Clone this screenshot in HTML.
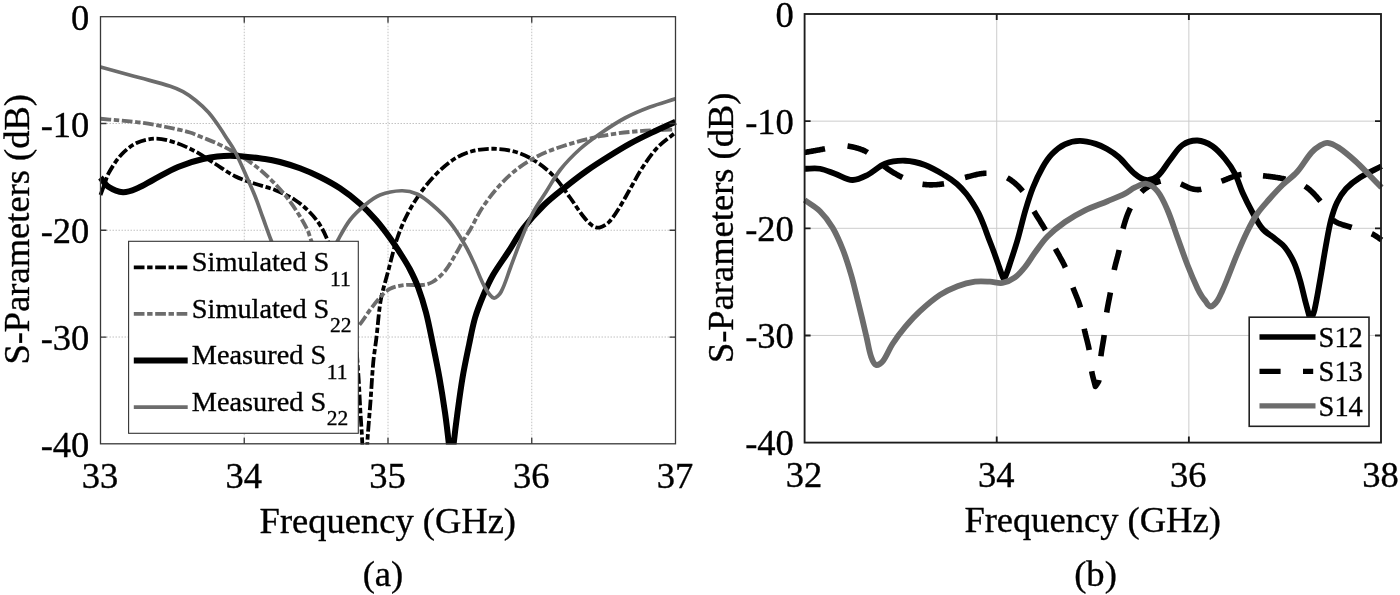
<!DOCTYPE html>
<html><head><meta charset="utf-8"><title>S-Parameters</title>
<style>html,body{margin:0;padding:0;background:#fff;overflow:hidden}svg text{fill:#000;stroke:#000;stroke-width:0.35px}body{width:1400px;height:595px;font-family:"Liberation Serif",serif}</style>
</head><body>
<svg width="1400" height="595" viewBox="0 0 1400 595" style="display:block;filter:grayscale(1);font-family:'Liberation Serif',serif">
<defs>
<clipPath id="cl"><rect x="97.50" y="16.70" width="581.00" height="427.90"/></clipPath>
<clipPath id="cr"><rect x="801.60" y="14.00" width="582.40" height="429.40"/></clipPath>
</defs>
<rect width="1400" height="595" fill="#fff"/>
<line x1="244.25" y1="16.70" x2="244.25" y2="443.80" stroke="#c2c2c2" stroke-width="1" stroke-dasharray="1.5 1.5"/>
<line x1="388.00" y1="16.70" x2="388.00" y2="443.80" stroke="#c2c2c2" stroke-width="1" stroke-dasharray="1.5 1.5"/>
<line x1="531.75" y1="16.70" x2="531.75" y2="443.80" stroke="#c2c2c2" stroke-width="1" stroke-dasharray="1.5 1.5"/>
<line x1="100.50" y1="123.48" x2="675.50" y2="123.48" stroke="#c2c2c2" stroke-width="1" stroke-dasharray="1.5 1.5"/>
<line x1="100.50" y1="230.25" x2="675.50" y2="230.25" stroke="#c2c2c2" stroke-width="1" stroke-dasharray="1.5 1.5"/>
<line x1="100.50" y1="337.03" x2="675.50" y2="337.03" stroke="#c2c2c2" stroke-width="1" stroke-dasharray="1.5 1.5"/>
<g clip-path="url(#cl)" fill="none" stroke-linejoin="round">
<path d="M100.50 195.00C101.73 191.67 102.94 188.32 104.20 185.00C105.78 180.82 106.81 176.36 109.00 172.50C112.58 166.19 116.58 159.78 121.50 154.50C125.74 149.95 130.92 145.61 136.50 143.00C142.26 140.31 149.15 138.68 155.50 138.60C161.98 138.52 168.72 140.49 175.00 142.50C181.89 144.71 188.59 147.85 195.00 151.25C201.92 154.93 208.33 159.58 215.00 163.75C221.67 167.92 228.00 172.75 235.00 176.25C241.34 179.42 248.27 181.44 255.00 183.75C261.60 186.02 268.55 187.38 275.00 190.00C281.88 192.80 288.77 196.00 295.00 200.00C300.44 203.50 305.42 207.92 310.00 212.50C313.75 216.25 317.15 220.52 320.00 225.00C322.98 229.69 325.40 234.83 327.50 240.00C330.40 247.16 332.84 254.57 335.00 262.00C337.68 271.23 339.91 280.61 342.00 290.00C344.58 301.61 346.02 313.53 349.00 325.00C350.35 330.19 354.00 334.76 355.00 340.00C357.10 351.09 357.44 362.65 358.30 374.00C359.21 385.98 359.61 398.00 360.30 410.00C360.94 421.17 361.86 432.32 362.30 443.50C363.30 468.99 363.83 494.50 364.60 520.00C365.50 494.50 366.18 468.99 367.30 443.50C367.65 435.65 368.41 427.83 369.00 420.00C369.51 413.33 370.11 406.67 370.60 400.00C371.54 387.34 372.12 374.64 373.30 362.00C374.05 353.97 375.43 346.01 376.40 338.00C377.93 325.34 378.57 312.53 380.80 300.00C382.60 289.86 385.87 279.98 388.50 270.00C391.10 260.15 393.34 250.17 396.50 240.50C399.01 232.83 402.00 225.26 405.50 218.00C408.83 211.09 412.71 204.36 417.00 198.00C421.71 191.03 426.77 184.14 432.50 178.00C438.44 171.64 444.88 165.40 452.00 160.50C457.71 156.57 464.34 153.37 471.00 151.50C478.26 149.46 486.19 148.59 493.75 148.75C501.69 148.92 509.94 150.13 517.50 152.50C524.53 154.71 531.34 158.40 537.50 162.50C543.84 166.73 549.80 171.90 555.00 177.50C560.64 183.57 565.10 190.76 570.00 197.50C574.43 203.59 578.32 210.12 583.00 216.00C585.82 219.55 588.90 223.27 592.50 225.80C594.40 227.14 597.31 228.05 599.50 227.60C602.64 226.95 606.09 224.86 608.50 222.50C612.42 218.66 615.47 213.70 618.50 209.00C622.47 202.86 625.84 196.34 629.50 190.00C633.84 182.50 637.74 174.72 642.50 167.50C647.08 160.55 651.82 153.52 657.50 147.50C662.82 141.86 669.50 137.50 675.50 132.50" stroke="#000" stroke-width="3.8" stroke-dasharray="10.7 2.65 5.4 2.65"/>
<path d="M100.50 118.75C113.67 120.00 126.88 120.87 140.00 122.50C148.38 123.54 156.71 125.09 165.00 126.75C173.38 128.43 181.80 130.15 190.00 132.50C194.30 133.73 198.33 135.83 202.50 137.50C206.67 139.17 210.92 140.63 215.00 142.50C220.76 145.13 226.49 147.88 232.00 151.00C238.99 154.96 246.02 159.02 252.50 163.75C258.69 168.27 264.47 173.43 270.00 178.75C275.30 183.85 280.35 189.30 285.00 195.00C289.52 200.55 293.63 206.48 297.50 212.50C301.13 218.14 304.55 223.99 307.50 230.00C309.05 233.16 309.72 236.71 311.00 240.00C313.88 247.38 317.19 254.60 320.00 262.00C323.52 271.26 326.32 280.81 330.00 290.00C332.99 297.47 336.17 304.95 340.00 312.00C342.50 316.61 345.55 321.18 349.00 325.00C350.22 326.35 352.28 327.27 354.00 327.50C355.36 327.68 357.28 327.31 358.25 326.25C362.62 321.47 365.97 315.33 370.00 310.00C373.22 305.75 376.36 301.37 380.00 297.50C383.02 294.29 386.15 290.68 390.00 288.75C394.48 286.51 399.92 285.59 405.00 285.00C410.75 284.34 416.76 285.63 422.50 285.00C425.93 284.63 429.61 283.80 432.50 282.00C437.11 279.13 441.55 275.28 445.00 271.00C449.88 264.94 453.46 257.74 457.50 251.00C459.46 247.74 461.06 244.27 463.00 241.00C465.22 237.27 467.81 233.75 470.00 230.00C474.31 222.59 477.75 214.62 482.50 207.50C487.75 199.62 493.65 192.03 500.00 185.00C505.32 179.11 511.21 173.57 517.50 168.75C523.71 163.99 530.50 159.75 537.50 156.25C545.50 152.25 553.97 148.98 562.50 146.25C574.80 142.31 587.34 138.78 600.00 136.25C612.34 133.78 624.95 132.37 637.50 131.25C650.12 130.12 662.83 130.08 675.50 129.50" stroke="#6c6c6c" stroke-width="3.8" stroke-dasharray="10.7 2.65 5.4 2.65"/>
<path d="M100.50 177.50C103.00 180.50 104.84 184.43 108.00 186.50C112.34 189.33 117.93 191.95 123.00 192.20C127.93 192.45 133.22 189.94 138.00 188.00C143.22 185.88 147.98 182.63 153.00 180.00C161.32 175.63 169.37 170.62 178.00 167.00C186.04 163.62 194.49 160.84 203.00 159.00C211.82 157.09 220.99 155.75 230.00 155.75C241.65 155.75 253.39 157.55 265.00 159.00C270.05 159.63 275.08 160.69 280.00 162.00C286.75 163.79 293.46 165.85 300.00 168.30C306.80 170.85 313.51 173.75 320.00 177.00C326.84 180.42 333.65 184.06 340.00 188.30C346.98 192.96 353.70 198.15 360.00 203.70C365.70 208.72 371.00 214.28 376.00 220.00C381.00 225.71 385.55 231.84 390.00 238.00C394.22 243.84 398.14 249.91 402.00 256.00C404.80 260.41 407.60 264.86 410.00 269.50C412.94 275.19 415.77 281.00 418.00 287.00C421.10 295.33 423.77 303.88 426.00 312.50C428.77 323.22 430.76 334.15 433.00 345.00C435.26 355.98 437.54 366.96 439.50 378.00C441.54 389.46 443.36 400.97 445.00 412.50C446.44 422.64 447.64 432.82 448.75 443.00C449.73 451.98 450.42 461.00 451.25 470.00C452.08 461.00 452.77 451.98 453.75 443.00C454.86 432.82 456.13 422.65 457.50 412.50C459.05 400.98 460.55 389.45 462.50 378.00C464.38 366.95 466.71 355.97 469.00 345.00C470.88 335.97 472.44 326.83 475.00 318.00C477.27 310.17 480.35 302.53 483.50 295.00C486.35 288.20 489.33 281.38 493.00 275.00C497.66 266.88 503.39 259.37 508.50 251.50C513.56 243.70 517.88 235.36 523.50 228.00C529.71 219.86 536.69 212.17 544.00 205.00C550.52 198.61 557.86 193.02 565.00 187.30C572.13 181.59 579.35 175.97 586.80 170.70C593.85 165.71 601.18 161.09 608.50 156.50C615.58 152.06 622.69 147.64 630.00 143.60C637.12 139.67 644.47 136.13 651.80 132.60C659.63 128.83 667.60 125.33 675.50 121.70" stroke="#000" stroke-width="6.0"/>
<path d="M100.50 67.00C113.67 70.60 126.84 74.18 140.00 77.80C150.11 80.58 160.35 82.98 170.30 86.20C174.68 87.62 179.00 89.45 183.00 91.70C187.50 94.22 191.79 97.24 195.80 100.50C200.33 104.18 204.69 108.18 208.60 112.50C212.16 116.44 215.14 120.93 218.20 125.30C221.44 129.93 224.43 134.75 227.50 139.50C229.86 143.15 232.49 146.66 234.50 150.50C238.32 157.82 241.60 165.45 245.00 173.00C248.43 180.62 251.90 188.24 255.00 196.00C257.90 203.24 260.33 210.67 263.00 218.00C265.67 225.33 268.19 232.72 271.00 240.00C275.52 251.72 279.55 263.72 285.00 275.00C289.22 283.72 294.63 291.95 300.00 300.00C301.30 301.95 303.59 305.94 305.00 305.00C308.59 302.61 312.27 295.33 315.00 290.00C319.61 281.00 322.76 271.22 327.00 262.00C330.42 254.55 334.06 247.19 338.00 240.00C341.73 233.19 345.29 226.11 350.00 220.00C354.29 214.44 359.59 209.50 365.00 205.00C369.59 201.17 374.51 197.14 380.00 195.00C386.68 192.39 394.34 190.94 401.50 190.75C406.67 190.61 412.30 191.84 417.00 194.00C422.64 196.59 427.72 200.87 432.50 205.00C438.72 210.37 444.82 216.13 450.00 222.50C455.66 229.46 460.41 237.26 465.00 245.00C468.41 250.76 471.14 256.93 474.00 263.00C477.81 271.10 480.64 279.77 485.00 287.50C487.22 291.43 490.59 297.11 493.75 298.00C495.92 298.61 499.53 294.68 501.00 292.00C505.11 284.51 507.37 275.68 510.50 267.50C513.87 258.68 516.93 249.74 520.50 241.00C524.43 231.40 528.22 221.68 533.00 212.50C536.72 205.34 541.64 198.82 546.00 192.00C550.81 184.48 554.99 176.47 560.50 169.50C566.32 162.13 573.03 155.31 580.00 149.00C586.20 143.38 593.10 138.46 600.00 133.70C608.10 128.12 616.34 122.62 625.00 118.00C633.01 113.72 641.50 110.24 650.00 107.00C658.34 103.82 667.00 101.50 675.50 98.75" stroke="#6c6c6c" stroke-width="3.7"/>
</g>
<path d="M244.25 16.70v6.0M244.25 443.80v-6.0M388.00 16.70v6.0M388.00 443.80v-6.0M531.75 16.70v6.0M531.75 443.80v-6.0M100.50 123.48h6.0M675.50 123.48h-6.0M100.50 230.25h6.0M675.50 230.25h-6.0M100.50 337.03h6.0M675.50 337.03h-6.0" stroke="#383838" stroke-width="1.30" fill="none"/>
<rect x="100.50" y="16.70" width="575.00" height="427.10" fill="none" stroke="#383838" stroke-width="1.30"/>
<rect x="128.60" y="241.30" width="229.70" height="192.00" fill="#fff" stroke="#333" stroke-width="1.1"/>
<path d="M133.8 267.40H187.7" stroke="#000" stroke-width="3.8" stroke-dasharray="10.7 2.65 5.4 2.65"/>
<path d="M133.8 313.80H187.7" stroke="#6c6c6c" stroke-width="3.8" stroke-dasharray="10.7 2.65 5.4 2.65"/>
<path d="M133.8 360.50H187.7" stroke="#000" stroke-width="6.0"/>
<path d="M133.8 407.20H187.7" stroke="#6c6c6c" stroke-width="3.7"/>
<text x="191.8" y="271.30" font-size="28.3"><tspan>Simulated S</tspan><tspan font-size="21.5" dx="0.6" dy="14.2">11</tspan></text>
<text x="191.8" y="317.70" font-size="28.3"><tspan>Simulated S</tspan><tspan font-size="21.5" dx="0.6" dy="14.2">22</tspan></text>
<text x="191.8" y="364.40" font-size="28.3"><tspan>Measured S</tspan><tspan font-size="21.5" dx="0.6" dy="14.2">11</tspan></text>
<text x="191.8" y="411.10" font-size="28.3"><tspan>Measured S</tspan><tspan font-size="21.5" dx="0.6" dy="14.2">22</tspan></text>
<text x="89.3" y="29.90" font-size="36.5" text-anchor="end">0</text>
<text x="89.3" y="136.68" font-size="36.5" text-anchor="end">-10</text>
<text x="89.3" y="243.45" font-size="36.5" text-anchor="end">-20</text>
<text x="89.3" y="350.23" font-size="36.5" text-anchor="end">-30</text>
<text x="89.3" y="457.00" font-size="36.5" text-anchor="end">-40</text>
<text x="99.90" y="487.7" font-size="36.5" text-anchor="middle">33</text>
<text x="243.65" y="487.7" font-size="36.5" text-anchor="middle">34</text>
<text x="387.40" y="487.7" font-size="36.5" text-anchor="middle">35</text>
<text x="531.15" y="487.7" font-size="36.5" text-anchor="middle">36</text>
<text x="674.90" y="487.7" font-size="36.5" text-anchor="middle">37</text>
<text x="387.8" y="532.5" font-size="36.5" text-anchor="middle">Frequency (GHz)</text>
<text transform="translate(28.6 229.3) rotate(-90)" font-size="36.5" text-anchor="middle">S-Parameters (dB)</text>
<text x="362.7" y="585.6" font-size="36.6">(a)</text>
<line x1="996.73" y1="14.00" x2="996.73" y2="442.60" stroke="#cccccc" stroke-width="1" stroke-dasharray="none"/>
<line x1="1188.87" y1="14.00" x2="1188.87" y2="442.60" stroke="#cccccc" stroke-width="1" stroke-dasharray="none"/>
<line x1="804.60" y1="121.15" x2="1381.00" y2="121.15" stroke="#cccccc" stroke-width="1" stroke-dasharray="none"/>
<line x1="804.60" y1="228.30" x2="1381.00" y2="228.30" stroke="#cccccc" stroke-width="1" stroke-dasharray="none"/>
<line x1="804.60" y1="335.45" x2="1381.00" y2="335.45" stroke="#cccccc" stroke-width="1" stroke-dasharray="none"/>
<g clip-path="url(#cr)" fill="none" stroke-linejoin="round">
<path d="M804.60 168.75C809.73 168.75 815.00 167.93 820.00 168.75C825.13 169.59 830.02 172.03 835.00 173.75C840.85 175.78 846.65 179.77 852.50 180.00C857.48 180.19 862.82 177.34 867.50 175.00C873.66 171.92 878.66 166.16 885.00 163.75C891.16 161.41 898.37 160.54 905.00 160.75C911.70 160.96 918.67 162.66 925.00 165.00C932.00 167.58 938.54 171.66 945.00 175.50C949.21 178.00 953.30 180.83 957.00 184.00C960.30 186.83 963.24 190.14 966.00 193.50C968.57 196.64 970.81 200.08 973.00 203.50C974.97 206.58 976.87 209.73 978.50 213.00C980.37 216.73 981.95 220.62 983.50 224.50C985.28 228.95 986.81 233.51 988.50 238.00C990.14 242.34 991.90 246.64 993.50 251.00C995.57 256.64 997.50 262.33 999.50 268.00C1000.27 270.17 1000.93 272.37 1001.80 274.50C1002.40 275.97 1003.17 278.80 1003.90 278.80C1004.64 278.80 1005.59 276.00 1006.20 274.50C1007.46 271.40 1008.46 268.19 1009.50 265.00C1012.22 256.69 1015.06 248.40 1017.50 240.00C1020.39 230.07 1022.57 219.92 1025.50 210.00C1027.74 202.42 1030.07 194.83 1033.00 187.50C1035.74 180.66 1038.86 173.89 1042.50 167.50C1045.20 162.76 1048.24 157.99 1052.00 154.10C1055.67 150.29 1060.07 146.65 1064.80 144.40C1069.31 142.25 1074.71 140.98 1079.70 140.90C1085.01 140.81 1090.53 142.37 1095.70 143.90C1099.67 145.07 1103.50 146.94 1107.10 149.00C1111.14 151.31 1115.14 153.90 1118.60 157.00C1124.44 162.23 1129.03 168.99 1135.00 174.00C1138.17 176.66 1142.18 179.62 1146.00 180.00C1149.68 180.37 1154.53 178.72 1157.50 176.25C1162.53 172.06 1165.73 165.34 1170.00 160.00C1174.07 154.92 1177.41 148.61 1182.50 145.00C1186.58 142.11 1192.56 140.29 1197.50 140.50C1202.56 140.71 1208.14 143.35 1212.50 146.25C1217.30 149.44 1221.29 154.21 1225.00 158.75C1228.79 163.38 1232.25 168.44 1235.00 173.75C1238.08 179.69 1239.73 186.37 1242.50 192.50C1245.57 199.29 1248.90 205.98 1252.50 212.50C1255.57 218.06 1258.42 223.99 1262.50 228.75C1265.92 232.74 1270.90 235.33 1275.00 238.75C1278.40 241.58 1282.27 244.08 1285.00 247.50C1288.60 252.00 1291.57 257.23 1294.00 262.50C1296.57 268.07 1298.27 274.09 1300.00 280.00C1301.93 286.59 1303.29 293.34 1305.00 300.00C1306.29 305.01 1307.69 309.99 1309.00 315.00C1309.52 316.99 1310.00 319.00 1310.50 321.00C1311.83 317.33 1313.63 313.79 1314.50 310.00C1316.96 299.29 1318.58 288.35 1320.50 277.50C1322.41 266.68 1324.03 255.81 1326.00 245.00C1327.53 236.64 1328.88 228.21 1331.00 220.00C1332.54 214.04 1334.35 208.02 1337.00 202.50C1339.35 197.60 1342.34 192.73 1346.00 188.75C1350.00 184.40 1354.97 180.69 1360.00 177.50C1366.80 173.19 1374.33 170.00 1381.50 166.25" stroke="#000" stroke-width="5.8"/>
<path d="M804.60 152.50L805.45 152.34L806.30 152.19L807.15 152.03L808.00 151.88L808.85 151.73L809.70 151.58L810.55 151.42L811.40 151.27L812.26 151.12L813.11 150.96L813.96 150.81L814.81 150.66L815.66 150.51L816.51 150.35L817.36 150.20L818.21 150.04L819.06 149.88L819.91 149.73L820.76 149.57L821.61 149.41L822.46 149.24L823.30 149.08L824.15 148.92L825.00 148.75M847.54 145.96L848.17 146.06L848.80 146.16L849.43 146.27L850.06 146.39L850.68 146.51L851.31 146.64L851.93 146.77L852.55 146.91L853.17 147.05L853.78 147.20L854.39 147.35L855.00 147.50L855.54 147.64L856.08 147.78L856.62 147.93L857.17 148.08L857.71 148.24L858.25 148.41L858.79 148.58L859.33 148.75L859.87 148.93L860.41 149.12L860.94 149.31L861.48 149.51L862.00 149.72L862.53 149.93L863.05 150.15L863.57 150.38L864.08 150.61L864.59 150.86L865.09 151.11L865.58 151.37L866.07 151.64L866.56 151.92L867.03 152.20L867.50 152.50M884.00 166.25L884.73 166.77L885.47 167.29L886.21 167.81L886.95 168.32L887.70 168.84L888.45 169.34L889.20 169.85L889.96 170.35L890.71 170.84L891.48 171.34L892.24 171.82L893.01 172.30L893.78 172.78L894.56 173.25L895.34 173.71L896.12 174.16L896.90 174.61L897.69 175.05L898.48 175.48L899.28 175.90L900.08 176.32L900.88 176.72L901.69 177.11L902.50 177.50M922.50 184.25L923.38 184.37L924.26 184.48L925.14 184.58L926.03 184.65L926.92 184.72L927.82 184.77L928.72 184.81L929.62 184.83L930.52 184.85L931.42 184.85L932.33 184.83L933.24 184.81L934.14 184.78L935.05 184.73L935.95 184.67L936.86 184.61L937.76 184.53L938.66 184.44L939.56 184.35L940.45 184.25L941.35 184.13L942.24 184.01L943.12 183.89L944.00 183.75M965.00 177.50L965.89 177.28L966.77 177.05L967.66 176.81L968.55 176.58L969.45 176.34L970.34 176.10L971.23 175.86L972.13 175.62L973.03 175.39L973.92 175.16L974.82 174.93L975.72 174.72L976.62 174.51L977.52 174.32L978.42 174.13L979.32 173.96L980.22 173.81L981.12 173.67L982.01 173.55L982.91 173.44L983.81 173.36L984.71 173.30L985.60 173.26L986.50 173.25M1007.27 177.89L1008.03 178.31L1008.79 178.75L1009.54 179.21L1010.28 179.68L1011.02 180.18L1011.75 180.69L1012.47 181.22L1013.19 181.77L1013.89 182.33L1014.59 182.91L1015.28 183.49L1015.96 184.09L1016.63 184.71L1017.29 185.33L1017.95 185.96L1018.59 186.60L1019.22 187.25L1019.84 187.90L1020.44 188.57L1021.04 189.23L1021.62 189.90L1022.19 190.57L1022.75 191.25M1034.00 211.25L1034.46 212.04L1034.93 212.82L1035.40 213.61L1035.87 214.39L1036.35 215.17L1036.83 215.95L1037.31 216.73L1037.79 217.50L1038.27 218.28L1038.76 219.06L1039.24 219.83L1039.73 220.61L1040.21 221.39L1040.69 222.16L1041.18 222.94L1041.66 223.72L1042.13 224.50L1042.61 225.28L1043.08 226.06L1043.55 226.84L1044.02 227.63L1044.49 228.42L1044.95 229.21L1045.40 230.00M1055.40 248.75L1055.82 249.53L1056.24 250.31L1056.67 251.09L1057.09 251.86L1057.53 252.64L1057.96 253.41L1058.39 254.18L1058.83 254.96L1059.26 255.73L1059.69 256.50L1060.13 257.28L1060.56 258.05L1060.99 258.83L1061.41 259.61L1061.84 260.39L1062.25 261.17L1062.67 261.95L1063.08 262.73L1063.48 263.52L1063.88 264.31L1064.27 265.10L1064.66 265.90L1065.03 266.70L1065.40 267.50M1072.90 287.50L1073.22 288.33L1073.54 289.16L1073.86 289.99L1074.19 290.82L1074.53 291.65L1074.86 292.48L1075.20 293.30L1075.54 294.13L1075.88 294.96L1076.22 295.78L1076.55 296.61L1076.89 297.44L1077.22 298.26L1077.54 299.09L1077.86 299.92L1078.18 300.76L1078.49 301.59L1078.79 302.43L1079.08 303.27L1079.37 304.11L1079.64 304.95L1079.91 305.80L1080.16 306.65L1080.40 307.50M1084.20 328.75L1084.39 329.64L1084.58 330.53L1084.79 331.41L1084.99 332.30L1085.21 333.18L1085.42 334.07L1085.65 334.95L1085.87 335.83L1086.10 336.72L1086.32 337.60L1086.55 338.48L1086.78 339.36L1087.01 340.25L1087.23 341.13L1087.45 342.01L1087.67 342.90L1087.88 343.78L1088.09 344.66L1088.30 345.55L1088.49 346.44L1088.68 347.33L1088.87 348.22L1089.04 349.11L1089.20 350.00M1091.70 371.25L1091.81 371.89L1091.93 372.53L1092.06 373.18L1092.19 373.82L1092.33 374.45L1092.47 375.09L1092.62 375.73L1092.77 376.36L1092.93 377.00L1093.09 377.63L1093.25 378.27L1093.41 378.90L1093.58 379.53L1093.75 380.17L1093.92 380.80L1094.09 381.43L1094.26 382.07L1094.43 382.70L1094.59 383.33L1094.76 383.96L1094.92 384.60L1095.09 385.23L1095.24 385.87L1095.40 386.50L1095.55 386.23L1095.71 385.96L1095.88 385.70L1096.05 385.43L1096.23 385.17L1096.41 384.91L1096.59 384.64L1096.77 384.38L1096.95 384.12L1097.13 383.86L1097.31 383.60L1097.48 383.34L1097.66 383.07L1097.82 382.81L1097.98 382.54L1098.14 382.27L1098.28 382.00L1098.42 381.72L1098.55 381.45L1098.66 381.16L1098.77 380.88L1098.86 380.59L1098.94 380.30L1099.00 380.00M1100.90 356.25L1101.01 355.36L1101.12 354.47L1101.24 353.58L1101.36 352.70L1101.49 351.81L1101.63 350.92L1101.77 350.04L1101.91 349.15L1102.06 348.27L1102.20 347.39L1102.35 346.50L1102.50 345.62L1102.66 344.73L1102.81 343.85L1102.96 342.97L1103.11 342.08L1103.26 341.20L1103.40 340.31L1103.55 339.43L1103.69 338.54L1103.82 337.66L1103.95 336.77L1104.08 335.89L1104.20 335.00M1106.70 312.50L1106.83 311.66L1106.96 310.83L1107.09 309.99L1107.23 309.16L1107.38 308.32L1107.53 307.49L1107.68 306.65L1107.83 305.82L1107.99 304.99L1108.15 304.16L1108.31 303.32L1108.47 302.49L1108.64 301.66L1108.80 300.83L1108.97 300.00L1109.13 299.17L1109.30 298.33L1109.46 297.50L1109.62 296.67L1109.78 295.84L1109.94 295.00L1110.10 294.17L1110.25 293.33L1110.40 292.50M1114.20 270.00L1114.38 269.16L1114.56 268.32L1114.76 267.49L1114.95 266.65L1115.16 265.82L1115.37 264.99L1115.58 264.15L1115.80 263.32L1116.02 262.49L1116.24 261.66L1116.46 260.83L1116.68 260.00L1116.91 259.17L1117.13 258.34L1117.36 257.51L1117.58 256.68L1117.80 255.85L1118.01 255.01L1118.22 254.18L1118.43 253.35L1118.63 252.51L1118.83 251.68L1119.02 250.84L1119.20 250.00M1123.00 228.75L1123.24 227.87L1123.48 226.98L1123.73 226.10L1123.98 225.21L1124.23 224.32L1124.49 223.44L1124.76 222.56L1125.03 221.67L1125.31 220.79L1125.59 219.91L1125.88 219.04L1126.18 218.16L1126.49 217.29L1126.80 216.42L1127.12 215.56L1127.45 214.70L1127.78 213.84L1128.13 212.99L1128.48 212.14L1128.85 211.30L1129.22 210.47L1129.60 209.64L1130.00 208.82L1130.40 208.00M1141.50 192.00L1141.86 191.61L1142.24 191.24L1142.62 190.87L1143.02 190.51L1143.42 190.15L1143.83 189.81L1144.25 189.47L1144.67 189.14L1145.10 188.81L1145.54 188.49L1145.98 188.18L1146.43 187.87L1146.88 187.56L1147.34 187.27L1147.80 186.97L1148.26 186.68L1148.73 186.40L1149.19 186.12L1149.66 185.84L1150.13 185.57L1150.60 185.30L1151.07 185.03L1151.53 184.76L1152.00 184.50L1152.35 184.31L1152.70 184.12L1153.06 183.93L1153.42 183.75L1153.78 183.57L1154.14 183.39L1154.51 183.22L1154.88 183.05L1155.25 182.89L1155.63 182.73L1156.00 182.58L1156.38 182.43L1156.76 182.29L1157.14 182.15L1157.52 182.01L1157.91 181.88L1158.29 181.75L1158.68 181.63L1159.06 181.51L1159.45 181.40L1159.84 181.29L1160.22 181.19L1160.61 181.09M1180.80 184.00L1181.27 184.19L1181.74 184.38L1182.21 184.59L1182.68 184.79L1183.14 185.01L1183.60 185.23L1184.07 185.45L1184.53 185.68L1184.99 185.90L1185.45 186.13L1185.91 186.36L1186.37 186.58L1186.83 186.80L1187.29 187.02L1187.75 187.24L1188.22 187.44L1188.68 187.65L1189.15 187.84L1189.62 188.03L1190.09 188.21L1190.56 188.37L1191.04 188.53L1191.52 188.67L1192.00 188.80L1192.37 188.89L1192.75 188.98L1193.13 189.06L1193.51 189.14L1193.90 189.22L1194.29 189.29L1194.68 189.35L1195.07 189.41L1195.47 189.46L1195.86 189.50L1196.26 189.54L1196.65 189.57L1197.05 189.59L1197.45 189.60L1197.84 189.61L1198.24 189.60L1198.63 189.59L1199.02 189.56L1199.41 189.53L1199.79 189.49L1200.17 189.43L1200.55 189.37L1200.93 189.29L1201.30 189.20M1221.50 181.25L1222.33 180.94L1223.15 180.63L1223.98 180.30L1224.80 179.97L1225.63 179.64L1226.45 179.30L1227.28 178.96L1228.10 178.63L1228.93 178.29L1229.75 177.96L1230.58 177.63L1231.41 177.31L1232.24 177.00L1233.07 176.69L1233.90 176.40L1234.74 176.12L1235.58 175.85L1236.41 175.60L1237.26 175.36L1238.10 175.15L1238.95 174.95L1239.79 174.78L1240.65 174.63L1241.50 174.50M1263.00 175.75L1263.94 175.85L1264.89 175.95L1265.83 176.06L1266.78 176.16L1267.72 176.27L1268.67 176.38L1269.61 176.49L1270.56 176.61L1271.50 176.73L1272.44 176.86L1273.39 176.98L1274.33 177.12L1275.27 177.26L1276.21 177.40L1277.15 177.55L1278.08 177.71L1279.02 177.87L1279.95 178.04L1280.88 178.22L1281.81 178.41L1282.74 178.61L1283.66 178.81L1284.58 179.03L1285.50 179.25M1305.00 186.25L1305.73 186.73L1306.46 187.22L1307.17 187.74L1307.88 188.28L1308.58 188.83L1309.26 189.40L1309.94 189.98L1310.61 190.58L1311.27 191.19L1311.93 191.81L1312.57 192.45L1313.21 193.09L1313.85 193.74L1314.47 194.41L1315.09 195.07L1315.70 195.75L1316.31 196.43L1316.91 197.11L1317.50 197.80L1318.09 198.49L1318.67 199.18L1319.25 199.87L1319.83 200.56L1320.40 201.25M1333.00 220.00L1333.63 220.50L1334.28 220.97L1334.96 221.41L1335.65 221.83L1336.37 222.22L1337.11 222.59L1337.86 222.94L1338.63 223.28L1339.41 223.59L1340.21 223.89L1341.01 224.18L1341.83 224.45L1342.65 224.72L1343.47 224.97L1344.30 225.22L1345.14 225.47L1345.97 225.72L1346.80 225.96L1347.63 226.20L1348.46 226.45L1349.28 226.70L1350.10 226.96L1350.90 227.22L1351.70 227.50M1371.70 233.75L1372.15 233.94L1372.59 234.15L1373.03 234.36L1373.46 234.59L1373.89 234.82L1374.31 235.07L1374.73 235.32L1375.15 235.57L1375.57 235.84L1375.98 236.11L1376.39 236.38L1376.80 236.66L1377.21 236.94L1377.62 237.22L1378.02 237.50L1378.43 237.79L1378.83 238.07L1379.24 238.36L1379.65 238.64L1380.05 238.92L1380.46 239.20L1380.87 239.47L1381.29 239.74L1381.70 240.00" stroke="#000" stroke-width="5.6"/>
<path d="M804.60 200.00C809.73 203.75 815.52 206.83 820.00 211.25C824.82 216.00 829.03 221.66 832.50 227.50C836.70 234.57 839.97 242.31 843.00 250.00C846.21 258.15 848.74 266.59 851.20 275.00C853.61 283.25 855.50 291.66 857.60 300.00C859.17 306.24 860.70 312.49 862.20 318.75C863.70 324.99 865.13 331.25 866.60 337.50C868.13 344.00 869.02 350.77 871.20 357.00C872.22 359.93 874.06 364.27 876.20 365.00C877.99 365.61 881.43 363.02 883.00 361.00C886.87 356.02 888.97 349.43 892.50 344.00C896.30 338.16 900.52 332.54 905.00 327.20C909.69 321.61 914.64 316.14 920.00 311.20C926.30 305.39 932.89 299.69 940.00 294.95C945.39 291.35 951.43 288.50 957.50 286.20C963.10 284.08 969.08 282.52 975.00 281.70C979.91 281.02 985.01 281.47 990.00 281.70C994.18 281.89 998.51 283.64 1002.50 282.95C1006.84 282.20 1011.35 279.99 1015.00 277.40C1018.85 274.67 1022.00 270.74 1025.00 267.00C1028.66 262.44 1031.52 257.22 1035.00 252.50C1039.02 247.06 1042.78 241.30 1047.50 236.50C1052.78 231.13 1058.81 226.32 1065.00 222.00C1071.31 217.59 1078.08 213.69 1085.00 210.30C1092.25 206.75 1100.03 204.30 1107.50 201.20C1113.36 198.77 1119.34 196.53 1125.00 193.70C1128.51 191.95 1131.46 189.09 1135.00 187.45C1138.63 185.77 1142.93 183.15 1146.50 183.75C1150.43 184.41 1154.80 187.88 1157.50 191.25C1161.80 196.63 1164.70 203.51 1167.50 210.00C1171.36 218.93 1174.17 228.33 1177.50 237.50C1180.83 246.67 1183.94 255.92 1187.50 265.00C1190.61 272.92 1193.94 280.78 1197.50 288.50C1198.78 291.28 1200.37 293.92 1202.00 296.50C1202.97 298.02 1204.23 299.34 1205.30 300.80C1206.23 302.08 1206.93 303.57 1208.00 304.70C1208.73 305.47 1209.77 306.45 1210.70 306.50C1211.64 306.55 1212.80 305.71 1213.60 305.00C1215.10 303.68 1216.53 302.11 1217.60 300.40C1219.33 297.61 1220.62 294.51 1222.00 291.50C1223.59 288.04 1225.07 284.53 1226.50 281.00C1230.07 272.20 1233.33 263.26 1237.00 254.50C1240.17 246.93 1243.37 239.35 1247.00 232.00C1250.04 225.85 1253.17 219.66 1257.00 214.00C1260.50 208.83 1264.86 204.21 1269.00 199.50C1273.36 194.54 1277.79 189.62 1282.50 185.00C1287.13 180.46 1292.70 176.82 1297.00 172.00C1302.37 165.99 1306.19 158.54 1311.50 152.50C1314.02 149.64 1317.26 147.27 1320.50 145.30C1322.59 144.03 1325.20 142.52 1327.50 142.80C1331.20 143.25 1335.20 145.33 1338.50 147.50C1344.53 151.48 1350.09 156.39 1355.50 161.25C1360.75 165.97 1365.52 171.23 1370.50 176.25C1374.19 179.98 1377.83 183.75 1381.50 187.50" stroke="#6c6c6c" stroke-width="5.8"/>
</g>
<path d="M996.73 14.00v6.0M996.73 442.60v-6.0M1188.87 14.00v6.0M1188.87 442.60v-6.0M804.60 121.15h6.0M1381.00 121.15h-6.0M804.60 228.30h6.0M1381.00 228.30h-6.0M804.60 335.45h6.0M1381.00 335.45h-6.0" stroke="#1c1c1c" stroke-width="1.85" fill="none"/>
<rect x="804.60" y="14.00" width="576.40" height="428.60" fill="none" stroke="#1c1c1c" stroke-width="1.85"/>
<rect x="1249.20" y="317.20" width="119.80" height="109.10" fill="#fff" stroke="#222" stroke-width="1.6"/>
<path d="M1259.5 337.00H1315.5" stroke="#000" stroke-width="5.3"/>
<path d="M1259.5 371.30H1280.6M1303 371.30H1313.2" stroke="#000" stroke-width="5.3"/>
<path d="M1259.5 405.80H1315.5" stroke="#6c6c6c" stroke-width="5.3"/>
<text x="1318.6" y="347.00" font-size="28.4">S12</text>
<text x="1318.6" y="381.30" font-size="28.4">S13</text>
<text x="1318.6" y="415.80" font-size="28.4">S14</text>
<text x="793.8" y="26.60" font-size="36.5" text-anchor="end">0</text>
<text x="793.8" y="133.75" font-size="36.5" text-anchor="end">-10</text>
<text x="793.8" y="240.90" font-size="36.5" text-anchor="end">-20</text>
<text x="793.8" y="348.05" font-size="36.5" text-anchor="end">-30</text>
<text x="793.8" y="455.20" font-size="36.5" text-anchor="end">-40</text>
<text x="804.00" y="487.0" font-size="36.5" text-anchor="middle">32</text>
<text x="996.13" y="487.0" font-size="36.5" text-anchor="middle">34</text>
<text x="1188.27" y="487.0" font-size="36.5" text-anchor="middle">36</text>
<text x="1380.40" y="487.0" font-size="36.5" text-anchor="middle">38</text>
<text x="1092.6" y="532.0" font-size="36.5" text-anchor="middle">Frequency (GHz)</text>
<text transform="translate(732.9 227.8) rotate(-90)" font-size="36.5" text-anchor="middle">S-Parameters (dB)</text>
<text x="1074.2" y="586.0" font-size="36.6">(b)</text>
</svg>
</body></html>
